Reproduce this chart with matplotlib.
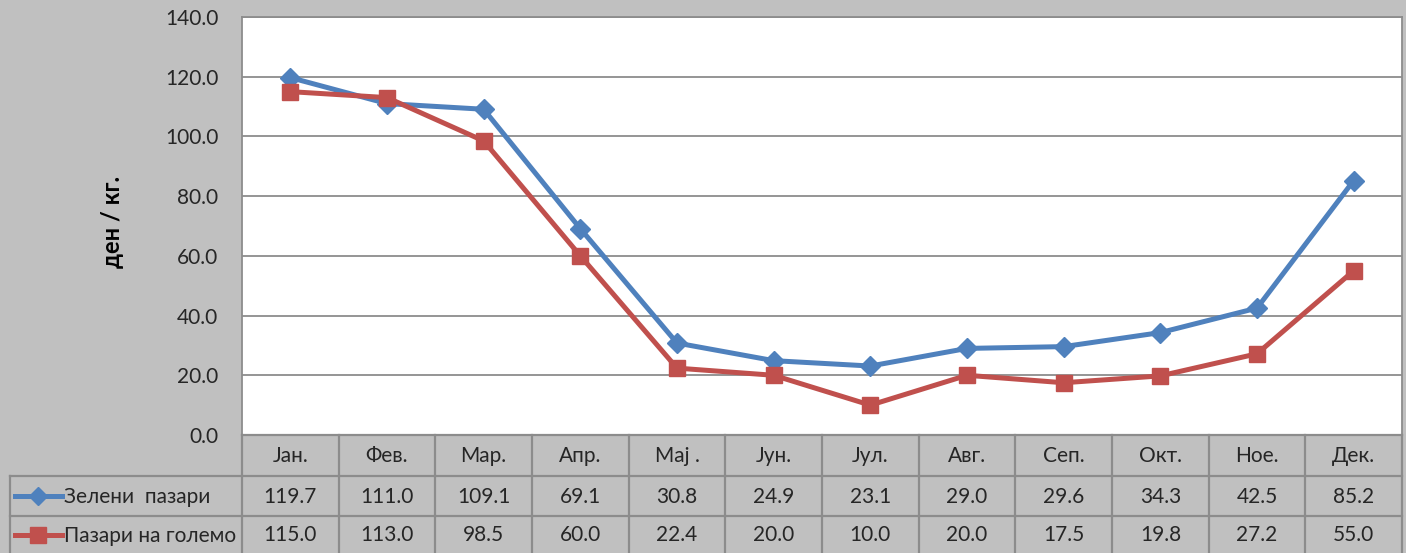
import matplotlib
matplotlib.use("Agg")
import matplotlib.pyplot as plt
from matplotlib.lines import Line2D

months = ["Јан.", "Фев.", "Мар.", "Апр.", "Мај .", "Јун.", "Јул.", "Авг.", "Сеп.", "Окт.", "Ное.", "Дек."]
series_names = ["Зелени  пазари", "Пазари на големо"]
zeleni = [119.7, 111.0, 109.1, 69.1, 30.8, 24.9, 23.1, 29.0, 29.6, 34.3, 42.5, 85.2]
golemo = [115.0, 113.0, 98.5, 60.0, 22.4, 20.0, 10.0, 20.0, 17.5, 19.8, 27.2, 55.0]
y_ticks = [0, 20, 40, 60, 80, 100, 120, 140]
y_label = "ден / кг."

FONT = ["Lato", "Noto Sans", "DejaVu Sans"]
plt.rcParams["font.family"] = FONT

W, H = 1406, 553
BG = "#C0C0C0"
GRID = "#8C8C8C"
BLUE = "#4F81BD"
RED = "#C0504D"
TXT = "#262626"
FS = 15

fig = plt.figure(figsize=(W / 100, H / 100), dpi=100, facecolor=BG)

# plot area in pixels
L, R, T, B = 242, 1402, 17, 435
ax = fig.add_axes([L / W, 1 - B / H, (R - L) / W, (B - T) / H])
ax.set_facecolor("white")
n = len(months)
x = list(range(n))
ax.set_xlim(-0.5, n - 0.5)
ax.set_ylim(0, 140)
ax.set_yticks(y_ticks)
ax.set_yticklabels([f"{v:.1f}" for v in y_ticks], fontsize=FS, color=TXT)
ax.tick_params(axis="y", length=0, pad=17)
ax.set_xticks([])
ax.yaxis.grid(True, color=GRID, linewidth=1.3)
ax.set_axisbelow(True)
for s in ax.spines.values():
    s.set_color(GRID)
    s.set_linewidth(1.3)

ax.plot(x, zeleni, color=BLUE, lw=3.6, marker="D", ms=10, mfc=BLUE, mec=BLUE, zorder=3)
ax.plot(x, golemo, color=RED, lw=3.6, marker="s", ms=11, mfc=RED, mec=RED, zorder=3)

fig.text(112 / W, 1 - 222 / H, y_label, rotation=90, ha="center", va="center",
         fontsize=17, fontweight="bold", color="black")

# table in pixel coordinates
tab = fig.add_axes([0, 0, 1, 1], facecolor="none")
tab.set_xlim(0, W)
tab.set_ylim(H, 0)
tab.axis("off")

col_w = (R - L) / n
rows_y = [435, 476, 516, 556]
TL = 10
lc = "#8C8C8C"
lw = 1.6
tab.plot([L, R], [rows_y[0], rows_y[0]], color=lc, lw=lw)
for yy in rows_y[1:3]:
    tab.plot([TL, R], [yy, yy], color=lc, lw=lw)
tab.plot([TL, TL], [rows_y[1], H], color=lc, lw=lw)
for i in range(n + 1):
    xx = L + i * col_w
    tab.plot([xx, xx], [rows_y[0], H], color=lc, lw=lw)

for i, m in enumerate(months):
    cx = L + (i + 0.5) * col_w
    tab.text(cx, (rows_y[0] + rows_y[1]) / 2 + 1, m, ha="center", va="center", fontsize=FS, color=TXT)
    tab.text(cx, (rows_y[1] + rows_y[2]) / 2 + 1, f"{zeleni[i]:.1f}", ha="center", va="center", fontsize=FS, color=TXT)
    tab.text(cx, (rows_y[2] + rows_y[3]) / 2 - 1, f"{golemo[i]:.1f}", ha="center", va="center", fontsize=FS, color=TXT)

for r, (name, col, mk, ms) in enumerate([(series_names[0], BLUE, "D", 9), (series_names[1], RED, "s", 11)]):
    cy = (rows_y[r + 1] + rows_y[r + 2]) / 2 - (1 if r else 0)
    tab.add_line(Line2D([15, 62], [cy, cy], color=col, lw=3.6))
    tab.add_line(Line2D([38], [cy], color=col, marker=mk, ms=ms, mfc=col, mec=col, lw=0))
    tab.text(64, cy + 1, name, ha="left", va="center", fontsize=FS, color=TXT)

fig.savefig("out.png", dpi=100, facecolor=BG)
